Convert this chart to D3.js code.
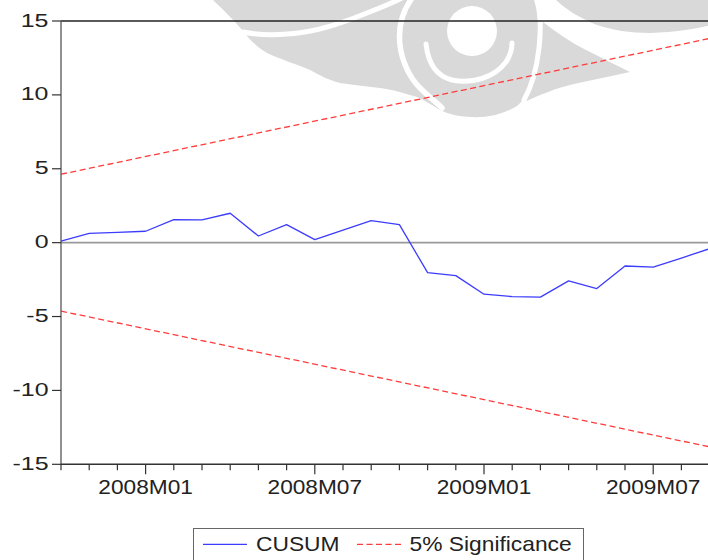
<!DOCTYPE html>
<html>
<head>
<meta charset="utf-8">
<script src="https://cdn.jsdelivr.net/npm/d3@7"></script>
<style>
  html, body { margin: 0; padding: 0; background: #fff; }
  svg { display: block; }
  text { font-family: "Liberation Sans", Arial, sans-serif; fill: #222; }
</style>
</head>
<body>
<svg id="chart" width="708" height="560"></svg>
<script>
// Monthly observations of the recursive-residual CUSUM test
const months = ["2007M10","2007M11","2007M12","2008M01","2008M02","2008M03","2008M04","2008M05",
                "2008M06","2008M07","2008M08","2008M09","2008M10","2008M11","2008M12","2009M01",
                "2009M02","2009M03","2009M04","2009M05","2009M06","2009M07","2009M08","2009M09"];
const cusum = [0.11, 0.63, 0.70, 0.77, 1.56, 1.54, 1.99, 0.45, 1.22, 0.20, 0.85, 1.49,
               1.22, -2.03, -2.23, -3.49, -3.65, -3.69, -2.59, -3.11, -1.58, -1.66, -1.04, -0.41];
// 5% significance bounds: straight lines between the first and last observation
const boundMonths = ["2007M10", "2009M09"];
const upperBound = [4.63, 13.82];
const lowerBound = [-4.63, -13.82];
const yTicks = [15, 10, 5, 0, -5, -10, -15];
const xLabels = ["2008M01", "2008M07", "2009M01", "2009M07"];
const legendLabels = ["CUSUM", "5% Significance"];

const svg = d3.select("#chart");
const plot = { left: 61, right: 709.6, top: 21, bottom: 464.3 };

const x = d3.scalePoint().domain(months).range([plot.left, plot.right]);
const y = d3.scaleLinear().domain([-15, 15]).range([plot.bottom, plot.top]);

// faint logo watermark behind the plot
const wm = svg.append("g").attr("class", "watermark");
const gray = "#d9d9d9";
wm.append("path").attr("fill", gray)
  .attr("d", "M213,0 L536,0 C539,10 540,22 538,34 C537,50 536,66 531,82 C528,92 524,100 517,106 " +
             "C505,113 490,118 470,117 C455,116 446,113 440,110 C430,104 424,100 417,97 " +
             "C400,92 390,89 380,88 C365,86 352,85 340,83 C325,79 318,74 310,70 C296,64 282,60 267,53 " +
             "C257,47 249,39 243,31 C234,20 222,9 213,0 Z");
wm.append("path").attr("fill", gray)
  .attr("d", "M542,0 L708,0 L708,26 C695,29 675,32 650,33 C630,33 612,30 597,25 C582,19 568,11 556,0 Z");
wm.append("path").attr("fill", gray)
  .attr("d", "M543,22 C556,32 570,42 586,50 C602,58 616,65 630,72 C612,76 592,80 574,84 " +
             "C556,88 540,95 524,102 C529,88 533,74 535,60 C537,46 539,34 543,22 Z");
// white cut-outs: ring centre, crescent and curved bands
wm.append("circle").attr("cx", 472).attr("cy", 31).attr("r", 25).attr("fill", "#fff");
const band = (d, w) => wm.append("path").attr("d", d).attr("fill", "none")
  .attr("stroke", "#fff").attr("stroke-width", w).attr("stroke-linecap", "round");
band("M243,32 C262,36 285,35 305,32 C330,28 350,20 367,13 C380,8 392,3 402,-2", 5);
band("M412,-2 C402,12 398,28 400,45 C402,62 410,78 420,88 C428,96 436,102 442,108", 5.5);
band("M426,44 C428,62 436,76 452,80 C472,84 494,78 506,62 C510,56 512,50 512,43", 5);
band("M536,-2 C541,12 541,30 539,48 C537,66 533,84 524,100", 5);
band("M548,0 C560,12 575,22 592,28 C612,34 635,37 660,36 C680,35 696,32 710,28", 5);

// zero reference line
svg.append("line")
  .attr("x1", plot.left).attr("x2", plot.right).attr("y1", y(0)).attr("y2", y(0))
  .attr("stroke", "#999").attr("stroke-width", 1.8);

// significance bounds
const boundLine = d3.line().x((d, i) => x(boundMonths[i])).y(d => y(d));
[upperBound, lowerBound].forEach(b => {
  svg.append("path").datum(b).attr("d", boundLine)
    .attr("fill", "none").attr("stroke", "#ff3c3c").attr("stroke-width", 1.3)
    .attr("stroke-dasharray", "6,3.5");
});

// CUSUM series
const cusumLine = d3.line().x((d, i) => x(months[i])).y(d => y(d));
svg.append("path").datum(cusum).attr("d", cusumLine)
  .attr("fill", "none").attr("stroke", "#3c3cff").attr("stroke-width", 1.3)
  .attr("stroke-linejoin", "round");

// frame
svg.append("line").attr("x1", plot.left).attr("x2", 708).attr("y1", plot.top).attr("y2", plot.top)
  .attr("stroke", "#222").attr("stroke-width", 1.4);
svg.append("line").attr("x1", plot.left).attr("x2", plot.left).attr("y1", plot.top).attr("y2", plot.bottom)
  .attr("stroke", "#555").attr("stroke-width", 1.3);
svg.append("line").attr("x1", plot.left).attr("x2", 708).attr("y1", plot.bottom).attr("y2", plot.bottom)
  .attr("stroke", "#333").attr("stroke-width", 1.5);

// y axis ticks and labels
const yAxis = svg.append("g");
yTicks.forEach(t => {
  yAxis.append("line").attr("x1", plot.left - 9).attr("x2", plot.left).attr("y1", y(t)).attr("y2", y(t))
    .attr("stroke", "#333").attr("stroke-width", 1.2);
  yAxis.append("g").attr("transform", `translate(48.5,${y(t) + 5.5}) scale(1.34,1)`)
    .append("text").attr("text-anchor", "end").attr("font-size", 18.6).text(t);
});

// x axis: monthly ticks, longer at labelled months
const xAxis = svg.append("g");
months.forEach(m => {
  const major = xLabels.includes(m);
  xAxis.append("line").attr("x1", x(m)).attr("x2", x(m))
    .attr("y1", plot.bottom).attr("y2", plot.bottom + (major ? 10 : 6))
    .attr("stroke", "#333").attr("stroke-width", 1.2);
});
xLabels.forEach(m => {
  xAxis.append("g").attr("transform", `translate(${x(m)},494.3) scale(1.08,1)`)
    .append("text").attr("text-anchor", "middle").attr("font-size", 21).text(m);
});

// legend
const lg = svg.append("g");
lg.append("rect").attr("x", 193.5).attr("y", 528.5).attr("width", 390).attr("height", 40)
  .attr("fill", "#fff").attr("stroke", "#666").attr("stroke-width", 1);
lg.append("line").attr("x1", 203).attr("x2", 247).attr("y1", 544.3).attr("y2", 544.3)
  .attr("stroke", "#3c3cff").attr("stroke-width", 1.3);
lg.append("g").attr("transform", "translate(256,551) scale(1.14,1)")
  .append("text").attr("font-size", 20).text(legendLabels[0]);
lg.append("line").attr("x1", 357).attr("x2", 401).attr("y1", 544.3).attr("y2", 544.3)
  .attr("stroke", "#ff3c3c").attr("stroke-width", 1.3).attr("stroke-dasharray", "6,3.5");
lg.append("g").attr("transform", "translate(409.5,551) scale(1.14,1)")
  .append("text").attr("font-size", 20).text(legendLabels[1]);
</script>
</body>
</html>
